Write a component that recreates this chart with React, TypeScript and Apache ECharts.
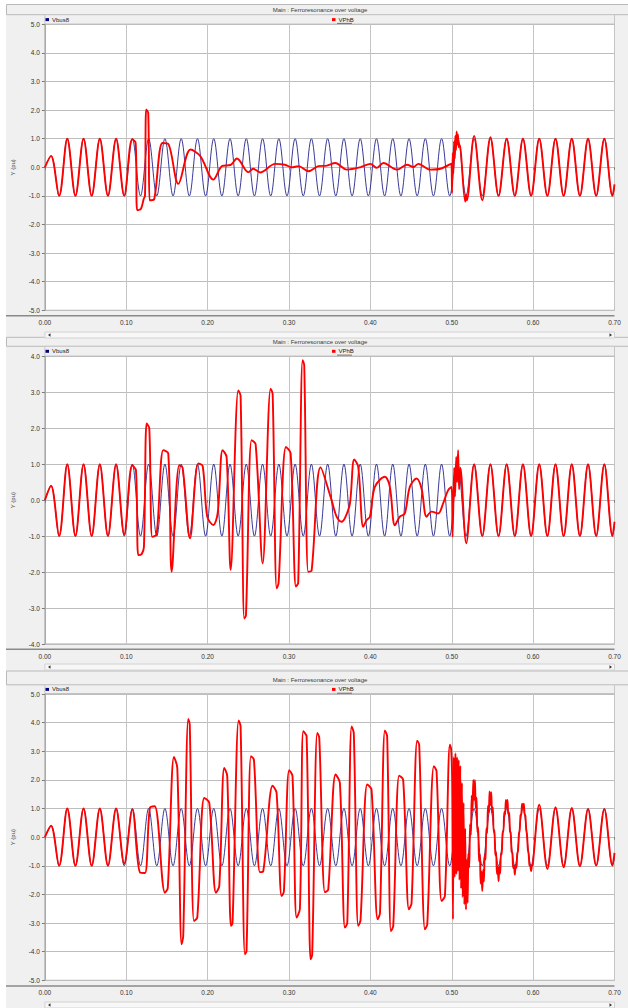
import React, { useEffect, useRef } from "react";
import * as echarts from "echarts";

// ---------------- DATA ----------------
const chartTitle = "Main : Ferroresonance over voltage";
const seriesNames = ["Vbus8", "VPhB"];
const yAxisName = "Y (pu)";
const xRange = [0, 0.7];
const yRanges = [
  [-5, 5],
  [-4, 4],
  [-5, 5],
];

// Vbus8 : source voltage (peaks / troughs)
const vbus8 = [
  [0, 0], [0.0075, 0.4], [0.0175, -1], [0.0275, 1], [0.0375, -1], [0.0475, 1], [0.0575, -1], [0.0675, 1],
  [0.0775, -1], [0.0875, 1], [0.0975, -1], [0.1075, 1], [0.1175, -1], [0.1275, 1], [0.1375, -1], [0.1475, 1],
  [0.1575, -1], [0.1675, 1], [0.1775, -1], [0.1875, 1], [0.1975, -1], [0.2075, 1], [0.2175, -1], [0.2275, 1],
  [0.2375, -1], [0.2475, 1], [0.2575, -1], [0.2675, 1], [0.2775, -1], [0.2875, 1], [0.2975, -1], [0.3075, 1],
  [0.3175, -1], [0.3275, 1], [0.3375, -1], [0.3475, 1], [0.3575, -1], [0.3675, 1], [0.3775, -1], [0.3875, 1],
  [0.3975, -1], [0.4075, 1], [0.4175, -1], [0.4275, 1], [0.4375, -1], [0.4475, 1], [0.4575, -1], [0.4675, 1],
  [0.4775, -1], [0.4875, 1], [0.4975, -1], [0.5075, 1], [0.5175, -1], [0.5275, 1], [0.5375, -1], [0.5475, 1],
  [0.5575, -1], [0.5675, 1], [0.5775, -1], [0.5875, 1], [0.5975, -1], [0.6075, 1], [0.6175, -1], [0.6275, 1],
  [0.6375, -1], [0.6475, 1], [0.6575, -1], [0.6675, 1], [0.6775, -1], [0.6875, 1], [0.6975, -1], [0.7, -0.7],
];

// VPhB, case 1
const vphbCase1 = [
  [0, 0], [0.0075, 0.4], [0.0175, -1], [0.0275, 1], [0.0375, -1], [0.0475, 1], [0.0575, -1], [0.0675, 1],
  [0.0775, -1], [0.0875, 1], [0.0975, -1], [0.1072, 0.98], [0.1115, 0.86], [0.1135, -1.5], [0.118, -1.45],
  [0.1215, -1.1], [0.123, -1.0], [0.1245, 2.02], [0.127, 1.9], [0.1286, -1.15], [0.1305, -1.15], [0.1345, -1.1],
  [0.1445, 0.85], [0.152, 0.8], [0.164, -0.58], [0.179, 0.62], [0.191, 0.39], [0.207, -0.43], [0.218, 0.05],
  [0.228, 0.08], [0.236, 0.31], [0.25, -0.17], [0.256, -0.05], [0.2646, -0.18], [0.283, 0.12], [0.295, 0.09],
  [0.3035, 0.0], [0.3117, 0.04], [0.324, -0.14], [0.336, 0.04], [0.3466, 0.06], [0.3568, 0.15], [0.371, -0.08],
  [0.3875, 0.0], [0.4, 0.12], [0.408, -0.02], [0.416, 0.15], [0.4326, -0.08], [0.445, 0.09], [0.453, 0.01],
  [0.459, 0.12], [0.4735, -0.08], [0.486, -0.05], [0.4995, 0.13], [0.5003, -0.9], [0.5012, 0.5], [0.502, -0.2],
  [0.5028, 0.9], [0.5036, 0.3], [0.5044, 1.1], [0.5052, 0.6], [0.506, 1.25], [0.5068, 0.8], [0.5076, 1.15],
  [0.5085, 0.7], [0.5095, 0.8], [0.5165, -1.2], [0.5175, -0.95], [0.5185, -1.15], [0.5275, 1.1], [0.5375, -1.15],
  [0.5475, 1.05], [0.5575, -1.0], [0.5675, 1], [0.5775, -1], [0.5875, 1], [0.5975, -1], [0.6075, 1], [0.6175, -1],
  [0.6275, 1], [0.6375, -1], [0.6475, 1], [0.6575, -1], [0.6675, 1], [0.6775, -1], [0.6875, 1], [0.6975, -1],
  [0.7, -0.6],
];

// VPhB, case 2
const vphbCase2 = [
  [0, 0], [0.0075, 0.4], [0.0175, -1], [0.0275, 1], [0.0375, -1], [0.0475, 1], [0.0575, -1], [0.0675, 1],
  [0.0775, -1], [0.0875, 1], [0.0975, -0.95], [0.1072, 0.97], [0.1119, 0.83], [0.1148, -1.53], [0.1189, -1.5],
  [0.1217, -1.3], [0.125, 2.13], [0.1283, 2.0], [0.132, -1.02], [0.1373, -0.95], [0.1455, 1.39], [0.1516, 1.3],
  [0.1558, -1.99], [0.1651, 0.97], [0.1693, 0.9], [0.1783, -1.06], [0.1885, 1.02], [0.1939, 0.95], [0.1995, -0.46],
  [0.2069, -0.69], [0.2123, -0.37], [0.2184, 1.39], [0.2233, 1.2], [0.2283, -1.94], [0.2376, 3.05], [0.2405, 2.9],
  [0.245, -3.29], [0.2471, -3.2], [0.254, 1.67], [0.259, 1.55], [0.2676, -1.76], [0.2774, 3.1], [0.2799, 2.95],
  [0.2848, -2.45], [0.2872, -2.3], [0.2962, 1.48], [0.302, 1.3], [0.3085, -2.4], [0.3113, -2.3], [0.3167, 3.89],
  [0.3187, 3.75], [0.3236, -1.99], [0.3278, -1.95], [0.3388, 0.91], [0.3523, 0.0], [0.3585, -0.46], [0.3646, -0.6],
  [0.3687, -0.5], [0.3748, -0.1], [0.3801, 1.13], [0.385, 0.93], [0.3912, -0.74], [0.3953, -0.56], [0.3994, -0.46],
  [0.4055, 0.37], [0.4178, 0.65], [0.4239, 0.37], [0.4301, -0.7], [0.4362, -0.46], [0.4423, -0.37], [0.4485, 0.37],
  [0.4567, 0.6], [0.4629, 0.32], [0.469, -0.46], [0.4752, -0.32], [0.4833, -0.37], [0.4894, -0.09], [0.4956, 0.28],
  [0.4998, 0.37], [0.501, -1.02], [0.503, 0.9], [0.504, 0.1], [0.5055, 1.2], [0.5065, 0.5], [0.5078, 1.39],
  [0.509, 0.3], [0.5105, 0.9], [0.5178, -1.2], [0.5275, 1.0], [0.5375, -1.0], [0.5475, 1], [0.5575, -1],
  [0.5675, 1], [0.5775, -1], [0.5875, 1], [0.5975, -1], [0.6075, 1], [0.6175, -1], [0.6275, 1], [0.6375, -1],
  [0.6475, 1], [0.6575, -1], [0.6675, 1], [0.6775, -1], [0.6875, 1], [0.6975, -1], [0.7, -0.6],
];

// VPhB, case 3
const vphbCase3 = [
  [0, 0], [0.0075, 0.4], [0.0175, -1], [0.0275, 1], [0.0375, -1], [0.0475, 1], [0.0575, -1], [0.0675, 1],
  [0.0775, -1], [0.0875, 1], [0.0975, -0.92], [0.1075, 0.97], [0.117, -1.24], [0.123, -1.25], [0.129, 1.02],
  [0.135, 1.08], [0.1475, -1.94], [0.151, -1.77], [0.1586, 2.8], [0.1627, 2.42], [0.168, -3.74], [0.17, -3.45],
  [0.1762, 4.13], [0.178, 3.93], [0.1832, -2.93], [0.1873, -2.8], [0.1958, 1.37], [0.202, 1.2], [0.2102, -1.94],
  [0.2143, -1.7], [0.2204, 2.42], [0.2241, 2.13], [0.2286, -3.1], [0.2306, -3.0], [0.2381, 4.08], [0.2405, 3.87],
  [0.2458, -4.09], [0.2478, -3.98], [0.2532, 2.83], [0.2569, 2.7], [0.2642, -1.22], [0.2683, -1.19], [0.2798, 1.8],
  [0.2847, 1.55], [0.2909, -2.06], [0.2937, -1.9], [0.3002, 2.34], [0.3043, 2.13], [0.3093, -2.81], [0.3134, -2.5],
  [0.3175, 3.7], [0.3216, 3.52], [0.3265, -4.27], [0.3285, -4.1], [0.3347, 3.64], [0.3372, 3.47], [0.3441, -1.92],
  [0.3482, -1.83], [0.3572, 2.19], [0.3625, 1.9], [0.3687, -3.16], [0.3716, -3.0], [0.3769, 3.87], [0.3796, 3.64],
  [0.385, -3.1], [0.3879, -2.9], [0.3961, 1.84], [0.4014, 1.66], [0.4089, -2.87], [0.4118, -2.65], [0.4178, 3.73],
  [0.4206, 3.52], [0.4252, -3.28], [0.4281, -3.1], [0.4354, 2.15], [0.4403, 2.0], [0.4473, -2.52], [0.4506, -2.3],
  [0.4575, 3.37], [0.46, 3.23], [0.467, -3.22], [0.4699, -3.05], [0.478, 2.48], [0.4813, 2.3], [0.4875, -2.23],
  [0.4916, -2.05], [0.4977, 3.23], [0.4993, 3.06],
  [0.5005, 2.0], [0.5015, -2.87], [0.5025, 2.8], [0.5035, -1.4], [0.5045, 2.94], [0.5055, -1.3], [0.5065, 2.8],
  [0.5075, -1.2], [0.5085, 2.7], [0.5095, -1.5], [0.5105, 2.5], [0.5115, -1.8], [0.5125, 1.9], [0.5135, -2.1],
  [0.5145, 1.2], [0.5155, -2.35], [0.5165, 0.3], [0.5175, -2.53], [0.5185, -0.8], [0.5195, -2.3],
  [0.5205, -0.56], [0.5215, -1.06], [0.5225, 0.45], [0.5235, 0.08], [0.5245, 1.45], [0.5255, 0.93], [0.5265, 2.0],
  [0.5275, 1.3], [0.5285, 2.0], [0.5295, 1.0], [0.5305, 1.38], [0.5315, 0.17], [0.5325, 0.35], [0.5335, -0.84],
  [0.5345, -0.6], [0.5355, -1.62], [0.5365, -1.2], [0.5375, -1.88], [0.5385, -1.15], [0.5395, -1.55], [0.5405, -0.6],
  [0.5415, -0.78], [0.5425, 0.3], [0.5435, 0.15], [0.5445, 1.1], [0.5455, 0.87], [0.5465, 1.6], [0.5475, 1.12],
  [0.5485, 1.57], [0.5495, 0.87], [0.5505, 1.05], [0.5515, 0.18], [0.5525, 0.24], [0.5535, -0.64], [0.5545, -0.53],
  [0.5555, -1.28], [0.5565, -1.02], [0.5575, -1.54], [0.5585, -1.02], [0.5595, -1.27], [0.5605, -0.56], [0.5615, -0.6],
  [0.5625, 0.2], [0.5635, 0.19], [0.5645, 0.88], [0.5655, 0.8], [0.5665, 1.3], [0.5675, 1.04], [0.5685, 1.3],
  [0.5695, 0.81], [0.5705, 0.86], [0.5715, 0.22], [0.5725, 0.14], [0.5735, -0.5], [0.5745, -0.56], [0.5755, -1.08],
  [0.5765, -1.0], [0.5775, -1.31], [0.5785, -1.0], [0.5795, -1.07], [0.5805, -0.58], [0.5815, -0.47], [0.5825, 0.1],
  [0.5835, 0.25], [0.5845, 0.76], [0.5855, 0.81], [0.5865, 1.17], [0.5875, 1.02], [0.5885, 1.17], [0.5895, 0.82],
  [0.5905, 0.74], [0.5915, 0.27], [0.5925, 0.08], [0.5935, -0.42], [0.5945, -0.59], [0.5955, -0.98], [0.5965, -1.0],
  [0.5975, -1.19], [0.5985, -1.0], [0.5995, -0.97],
  [0.6075, 1.13], [0.6175, -1.11], [0.6275, 1.05], [0.6375, -1.05], [0.6475, 1.02], [0.6575, -1.02],
  [0.6675, 0.98], [0.6775, -0.99], [0.6875, 0.98], [0.6975, -0.99], [0.7, -0.55],
];

const vphbCases = [vphbCase1, vphbCase2, vphbCase3];

// ---------------- LAYOUT ----------------
const W = 628;
const H = 1008;
const PLOT_L = 44.9;
const PLOT_R = 614.5;
const FONT = "'Liberation Sans', Arial, sans-serif";

const panels = [
  { top: 24.3, bottom: 310.3, bandTop: 4.5, bandBottom: 14.7, titleY: 9.6, legendY: 19.6, axisY: 315.7, scrollY: 335 },
  { top: 356.3, bottom: 644, bandTop: 337.3, bandBottom: 346.3, titleY: 341.8, legendY: 351.3, axisY: 649.3, scrollY: 667 },
  { top: 694, bottom: 980.3, bandTop: 671, bandBottom: 684.8, titleY: 679.5, legendY: 689.4, axisY: 986, scrollY: 1005 },
];

function buildOption() {
  const grid = panels.map((p) => ({
    left: PLOT_L,
    top: p.top,
    width: PLOT_R - PLOT_L,
    height: p.bottom - p.top,
    show: true,
    backgroundColor: "#ffffff",
    borderColor: "#a9a9a9",
    borderWidth: 1,
    containLabel: false,
  }));

  const xAxis = panels.map((_, i) => ({
    type: "value",
    gridIndex: i,
    min: xRange[0],
    max: xRange[1],
    interval: 0.1,
    offset: 5,
    axisLine: { show: false },
    axisTick: { show: true, length: 2.5, lineStyle: { color: "#7a7a7a", width: 1 } },
    axisLabel: {
      show: true,
      margin: 3.5,
      fontSize: 6.5,
      color: "#333333",
      fontFamily: FONT,
      formatter: (v: number) => v.toFixed(2),
    },
    splitLine: { show: true, lineStyle: { color: "#c4c4c4", width: 1 } },
  }));

  const yAxis = panels.map((_, i) => ({
    type: "value",
    gridIndex: i,
    min: yRanges[i][0],
    max: yRanges[i][1],
    interval: 1,
    name: yAxisName,
    nameLocation: "middle",
    nameRotate: 90,
    nameGap: 29,
    nameTextStyle: { fontSize: 6, color: "#444444", fontFamily: FONT },
    axisLine: { show: true, lineStyle: { color: "#a9a9a9", width: 1 } },
    axisTick: { show: true, length: 3, lineStyle: { color: "#7a7a7a", width: 1 } },
    axisLabel: {
      show: true,
      margin: 5,
      fontSize: 6.5,
      color: "#333333",
      fontFamily: FONT,
      formatter: (v: number) => v.toFixed(1),
    },
    splitLine: { show: true, lineStyle: { color: "#bdbdbd", width: 1 } },
  }));

  const series: any[] = [];
  panels.forEach((_, i) => {
    series.push({
      type: "line",
      name: seriesNames[0],
      xAxisIndex: i,
      yAxisIndex: i,
      data: vbus8,
      showSymbol: false,
      smooth: 0.36,
      silent: true,
      z: 2,
      lineStyle: { color: "#22228c", width: 0.9 },
      itemStyle: { color: "#000080" },
      emphasis: { disabled: true },
    });
    series.push({
      type: "line",
      name: seriesNames[1],
      xAxisIndex: i,
      yAxisIndex: i,
      data: vphbCases[i],
      showSymbol: false,
      smooth: 0.33,
      silent: true,
      z: 3,
      lineStyle: { color: "#ff0000", width: 1.9 },
      itemStyle: { color: "#ff0000" },
      emphasis: { disabled: true },
    });
  });

  const legend: any[] = [];
  panels.forEach((p) => {
    legend.push({
      left: 45.5,
      top: p.legendY - 4,
      padding: 0,
      itemGap: 0,
      itemWidth: 3.5,
      itemHeight: 3,
      icon: "rect",
      selectedMode: false,
      data: [seriesNames[0]],
      textStyle: { fontSize: 6, color: "#222222", fontFamily: FONT, lineHeight: 8, padding: [0, 0, 0, -2] },
    });
    legend.push({
      left: 332,
      top: p.legendY - 4,
      padding: 0,
      itemGap: 0,
      itemWidth: 3.5,
      itemHeight: 3,
      icon: "rect",
      selectedMode: false,
      data: [seriesNames[1]],
      textStyle: { fontSize: 6, color: "#222222", fontFamily: FONT, lineHeight: 8, padding: [0, 0, 0, -2] },
    });
  });

  const graphic: any[] = [
    { type: "rect", silent: true, z: -10, shape: { x: 0, y: 0, width: 6, height: H }, style: { fill: "#ffffff" } },
    { type: "rect", silent: true, z: -10, shape: { x: 0, y: 0, width: W, height: 4.5 }, style: { fill: "#ffffff" } },
  ];
  panels.forEach((p) => {
    // title band
    graphic.push({
      type: "rect",
      silent: true,
      z: -5,
      shape: { x: 6.5, y: p.bandTop, width: W - 6, height: p.bandBottom - p.bandTop },
      style: { fill: "#f0f0f0", stroke: "#b9b9b9", lineWidth: 1 },
    });
    graphic.push({
      type: "text",
      silent: true,
      x: 320,
      y: p.titleY,
      style: {
        text: chartTitle,
        fontSize: 6,
        fontFamily: FONT,
        fill: "#3a3a3a",
        align: "center",
        verticalAlign: "middle",
        textAlign: "center",
        textVerticalAlign: "middle",
      },
    });
    // legend band
    graphic.push({
      type: "rect",
      silent: true,
      z: -5,
      shape: { x: PLOT_L, y: p.bandBottom, width: PLOT_R - PLOT_L, height: p.top - p.bandBottom },
      style: { fill: "#f0f0f0", stroke: "#c6c6c6", lineWidth: 1 },
    });
    // underline of the selected legend entry
    graphic.push({
      type: "line",
      silent: true,
      shape: { x1: 337, y1: p.legendY + 3.8, x2: 352, y2: p.legendY + 3.8 },
      style: { stroke: "#555555", lineWidth: 0.8 },
    });
    // axis separator line
    graphic.push({
      type: "line",
      silent: true,
      shape: { x1: 6, y1: p.axisY, x2: PLOT_R, y2: p.axisY },
      style: { stroke: "#8a8a8a", lineWidth: 1.5 },
    });
    // scrollbar
    graphic.push({
      type: "rect",
      silent: true,
      shape: { x: PLOT_L, y: p.scrollY - 3, width: PLOT_R - PLOT_L, height: 6 },
      style: { fill: "#f7f7f7", stroke: "#d2d2d2", lineWidth: 1 },
    });
    graphic.push({
      type: "polygon",
      silent: true,
      shape: { points: [[50.5, p.scrollY - 1.8], [50.5, p.scrollY + 1.8], [48, p.scrollY]] },
      style: { fill: "#333333" },
    });
    graphic.push({
      type: "polygon",
      silent: true,
      shape: { points: [[609.5, p.scrollY - 1.8], [609.5, p.scrollY + 1.8], [612, p.scrollY]] },
      style: { fill: "#333333" },
    });
  });

  return {
    animation: false,
    backgroundColor: "#f0f0f0",
    textStyle: { fontFamily: FONT },
    grid,
    xAxis,
    yAxis,
    legend,
    series,
    graphic,
  };
}

export default function App() {
  const ref = useRef<HTMLDivElement | null>(null);
  useEffect(() => {
    if (!ref.current) return;
    const chart = echarts.init(ref.current, undefined, { renderer: "svg", width: W, height: H });
    chart.setOption(buildOption() as any);
    return () => {
      chart.dispose();
    };
  }, []);
  return (
    <div
      ref={ref}
      style={{ position: "absolute", left: 0, top: 0, width: W, height: H, overflow: "hidden" }}
    />
  );
}
